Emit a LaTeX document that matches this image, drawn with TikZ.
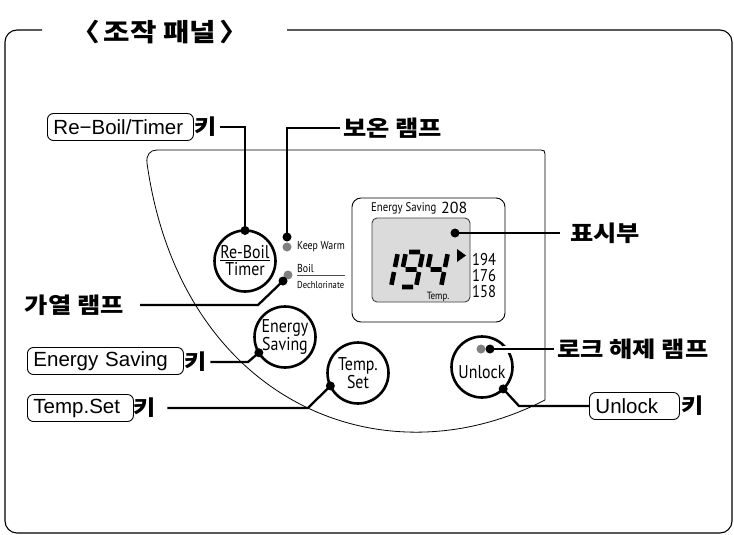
\documentclass[tikz,border=0pt]{standalone}
\usepackage{fontspec}
\setmainfont{Liberation Sans}
\newfontfamily\kr{Noto Sans CJK KR}[FakeStretch=1.15]
\newfontfamily\cnd{PT Sans}[FakeStretch=0.86]
\newfontfamily\pts{PT Sans}
\definecolor{lampc}{gray}{0.5}
\definecolor{lcdc}{gray}{0.86}
\begin{document}
\begin{tikzpicture}[x=1pt,y=-1pt,
  conn/.style={line width=2.3pt},
  dotb/.style={circle,fill=black,inner sep=0pt,minimum size=9pt},
  lampg/.style={circle,fill=lampc,inner sep=0pt,minimum size=9pt},
  btn/.style={circle,draw,line width=2.6pt,fill=white,minimum size=61pt,inner sep=0pt,outer sep=0pt,align=center,font=\cnd\fontsize{18.5}{18}\selectfont},
  keybox/.style={draw,rounded corners=6pt,line width=0.9pt,minimum height=27pt,inner xsep=6pt,anchor=west,align=left,font=\fontsize{20.5}{21}\selectfont},
  klab/.style={font=\kr\bfseries\fontsize{22}{24}\selectfont,inner ysep=0pt},
  kkey/.style={font=\kr\bfseries\fontsize{21}{24}\selectfont,inner sep=0pt},
  small/.style={font=\cnd\fontsize{11.5}{12}\selectfont,inner sep=0pt,anchor=west},
  segl/.style={line width=4.6pt,line cap=butt},
]
\useasboundingbox (0,0) rectangle (734,535);
% outer frame
\draw[line width=1.1pt,rounded corners=12pt] (42,30) -- (5,30) -- (5,533) -- (732,533) -- (732,30) -- (287,30);
\node[font=\kr\bfseries\fontsize{25}{27}\selectfont,inner sep=0pt] (title) at (160,32) {〈\hspace{-3pt} 조작 패널 \hspace{-3pt}〉};
% panel
\draw[line width=0.8pt] (545,400) -- (545,154) .. controls (545,151) and (544,150) .. (541,150) -- (157,150) .. controls (150,150) and (146,155) .. (147,163) .. controls (180,400) and (380,485) .. (545,400);
% display
\draw[line width=0.9pt,rounded corners=9pt] (352,198) rectangle (505,322);
\node[small,font=\cnd\fontsize{12.5}{13}\selectfont] (est) at (371,208) {Energy Saving};
\node[anchor=west,inner sep=0pt,font=\pts\fontsize{16}{16}\selectfont] (n208) at (441,208) {208};
\node[draw=black!75,fill=lcdc,line width=0.9pt,rounded corners=5pt,minimum width=98pt,minimum height=84pt] (lcd) at (421,260) {};
\node[font=\cnd\fontsize{10.5}{11}\selectfont,inner sep=0pt] (tmp) at (438,297) {Temp.};
\node[anchor=west,inner sep=0pt,font=\cnd\fontsize{17}{17}\selectfont] (v1) at (472,260) {194};
\node[anchor=west,inner sep=0pt,font=\cnd\fontsize{17}{17}\selectfont] (v2) at (472,276) {176};
\node[anchor=west,inner sep=0pt,font=\cnd\fontsize{17}{17}\selectfont] (v3) at (472,292) {158};
\fill (457,249) -- (466,255.5) -- (457,262) -- cycle;
% seven segment 194
\begin{scope}[shift={(391,287)},xslant=0.2]
  \draw[segl] (0,-32.8)--(0,-20) (0,-15)--(0,-2.2);
\end{scope}
\begin{scope}[shift={(399,287)},xslant=0.2]
  \draw[segl] (3,-35)--(14,-35) (17,-32.8)--(17,-20) (17,-15)--(17,-2.2)
     (3,0)--(14,0) (0,-20)--(0,-32.8) (3,-17.5)--(14,-17.5);
\end{scope}
\begin{scope}[shift={(424,287)},xslant=0.2]
  \draw[segl] (17,-32.8)--(17,-20) (17,-15)--(17,-2.2)
     (0,-20)--(0,-32.8) (3,-17.5)--(14,-17.5);
\end{scope}
\node[dotb] (dd) at (455,233) {};
\node[klab,anchor=west,inner xsep=10pt] (pyo) at (560,233) {표시부};
\draw[conn] (dd.center) -- (pyo.west);
% buttons
\node[btn] (rb) at (245,261) {\underline{Re-Boil}\\[-1pt]Timer};
\node[btn] (esb) at (285,337) {Energy\\Saving};
\node[btn] (tsb) at (358,373) {Temp.\\Set};
\node[btn] (ulb) at (482,367) {\raisebox{-5pt}[\height][\depth]{Unlock}};
% lamps
\node[lampg] (kwl) at (287,247) {};
\node[dotb] (kwd) at (287,237) {};
\node[small] (kwt) at (297,247) {Keep Warm};
\node[lampg] (bl) at (288,275) {};
\node[dotb] (bd) at (283,281) {};
\node[small] (bt) at (297,268) {Boil};
\draw[line width=0.6pt,black!70] (bt.south west) ++(0,3) -- ++(48,0);
\node[small,font=\cnd\fontsize{10}{10}\selectfont] (dt) at (297,285) {Dechlorinate};
% Re-Boil key
\node[keybox,text width=134pt] (rbk) at (47,127) {Re−Boil/Timer};
\node[kkey] (rbkey) at (206,127) {키};
\node[dotb] (rbd) at (rb.north) {};
\draw[conn] ([xshift=3pt]rbkey.east) -| (rbd.center);
% keep warm
\node[klab,anchor=west,inner xsep=3pt] (kwlab) at (340,128) {보온 램프};
\draw[conn] (kwd.center) |- (kwlab.west);
% boil
\node[klab,anchor=east,inner xsep=0pt] (gy) at (124,305) {가열 램프};
\coordinate (bk) at (258,305);
\draw[conn] ([xshift=16pt]gy.east) -- (bk) -- (bd.center);
% energy saving
\node[keybox,text width=144pt] (esk) at (27,361) {Energy Saving};
\node[kkey] (eskey) at (196,362) {키};
\node[dotb] (esd) at (esb.211) {};
\coordinate (esbend) at (248,362);
\draw[conn] ([xshift=3pt]eskey.east) -- (esbend) -- (esd.center);
% temp set
\node[keybox,text width=94pt] (tsk) at (27,408) {Temp.Set};
\node[kkey] (tskey) at (145,408) {키};
\node[dotb] (tsd) at (tsb.205) {};
\coordinate (tsbend) at (308,408);
\draw[conn] ([xshift=11pt]tskey.east) -- (tsbend) -- (tsd.center);
% unlock lamp
\node[lampg] (ull) at (481,349) {};
\node[dotb] (uld) at (490,349) {};
\node[klab,anchor=west,inner xsep=3pt] (rok) at (554,349) {로크 해제 램프};
\draw[white,line width=7pt] (uld.center) ++(13,0) -- ++(12,0);
\draw[conn] (uld.center) -- (rok.west);
% unlock key
\node[keybox,text width=78pt] (ulk) at (589,406) {Unlock};
\node[kkey] (ulkey) at (693,406) {키};
\node[dotb] (ulkd) at (ulb.-46) {};
\coordinate (ulbend) at (519,406);
\draw[conn] (ulkd.center) -- (ulbend) -- (ulk.west);
\end{tikzpicture}
\end{document}
